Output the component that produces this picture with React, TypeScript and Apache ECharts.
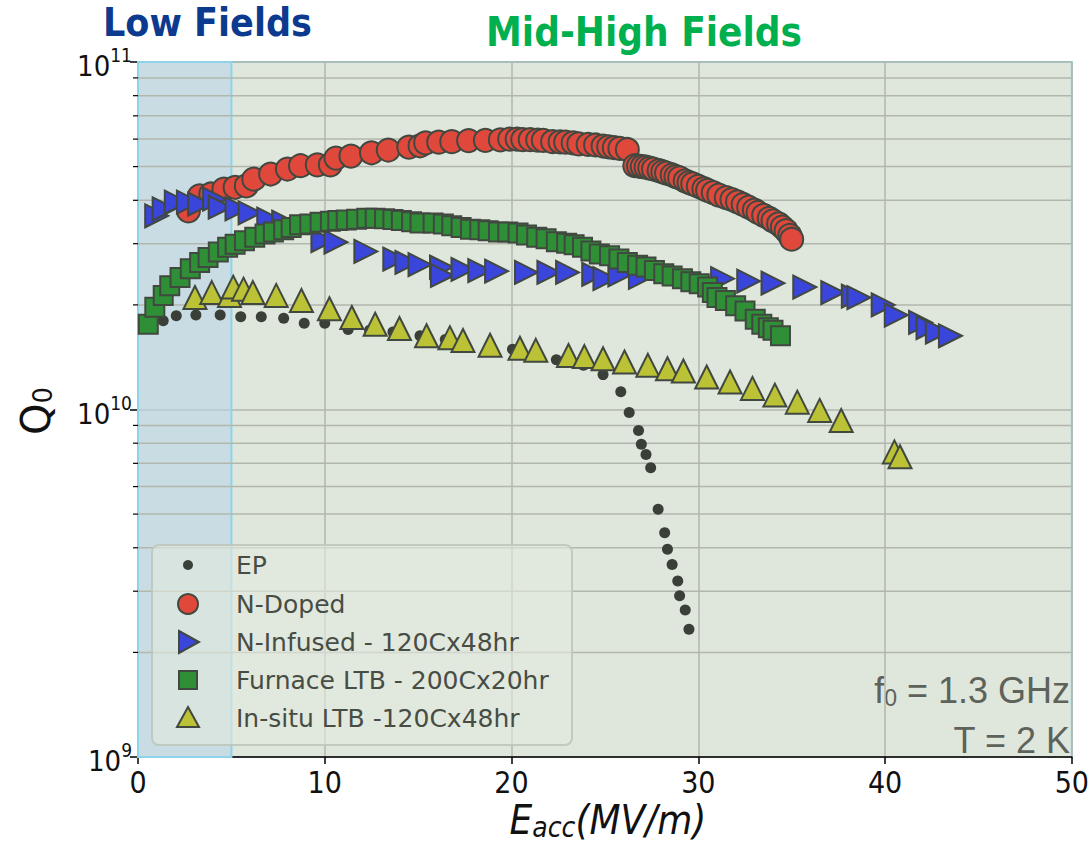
import React, { useEffect, useRef } from "react";
import * as echarts from "echarts";

// ---------- data (E_acc in MV/m, Q0) ----------
const epData: [number, number][] = [
  [1.35, 1.8e10], [2.05, 1.86e10], [3.1, 1.87e10], [4.4, 1.87e10], [5.5, 1.85e10], [6.6, 1.85e10],
  [7.8, 1.83e10], [8.9, 1.77e10], [10.0, 1.77e10], [11.25, 1.7e10], [12.4, 1.69e10], [13.65, 1.67e10],
  [15.1, 1.63e10], [16.45, 1.59e10], [20.05, 1.49e10], [21.2, 1.43e10], [22.4, 1.39e10], [23.85, 1.34e10],
  [24.9, 1.26e10], [25.85, 1.125e10], [26.3, 9.8e9], [26.8, 8.7e9], [26.95, 7.94e9], [27.2, 7.42e9],
  [27.45, 6.8e9], [27.85, 5.16e9], [28.2, 4.42e9], [28.35, 3.96e9], [28.6, 3.58e9], [28.9, 3.21e9],
  [29.0, 2.91e9], [29.3, 2.65e9], [29.5, 2.33e9],
];

const nDopedData: [number, number][] = [
  [2.7, 3.73e10], [3.3, 4.12e10], [3.9, 4.17e10], [4.6, 4.31e10], [5.2, 4.36e10], [5.8, 4.4e10],
  [6.2, 4.6e10], [7.1, 4.76e10], [8.0, 4.92e10], [8.7, 5.03e10], [9.6, 5.06e10], [10.3, 5.06e10],
  [10.6, 5.29e10], [11.4, 5.36e10], [12.5, 5.48e10], [13.4, 5.58e10], [14.5, 5.69e10], [15.1, 5.74e10],
  [15.4, 5.85e10], [16.1, 5.88e10], [16.8, 5.9e10], [17.7, 5.94e10], [18.6, 5.95e10], [19.4, 5.97e10],
  [19.9, 6.0e10], [20.3, 6.0e10], [20.6, 5.98e10], [21.0, 5.98e10], [21.4, 5.96e10], [21.7, 5.95e10],
  [22.2, 5.9e10], [22.6, 5.89e10], [22.9, 5.88e10], [23.3, 5.85e10], [23.6, 5.81e10], [24.1, 5.79e10],
  [24.5, 5.77e10], [24.9, 5.73e10], [25.2, 5.7e10], [25.5, 5.67e10], [25.8, 5.64e10], [26.2, 5.6e10],
  [26.6, 5.03e10], [26.8, 5.02e10], [27.0, 5.0e10], [27.2, 4.98e10], [27.4, 4.95e10], [27.6, 4.92e10],
  [27.9, 4.87e10], [28.1, 4.83e10], [28.3, 4.79e10], [28.6, 4.73e10], [28.8, 4.68e10], [29.0, 4.64e10],
  [29.3, 4.55e10], [29.5, 4.5e10], [29.7, 4.46e10], [30.0, 4.39e10], [30.3, 4.32e10], [30.5, 4.27e10],
  [30.8, 4.21e10], [31.1, 4.14e10], [31.5, 4.07e10], [31.8, 4.02e10], [32.1, 3.96e10], [32.4, 3.89e10],
  [32.7, 3.82e10], [33.0, 3.75e10], [33.2, 3.69e10], [33.5, 3.62e10], [33.8, 3.55e10], [34.0, 3.49e10],
  [34.3, 3.42e10], [34.5, 3.35e10], [34.7, 3.27e10], [34.9, 3.17e10], [35.0, 3.09e10],
];

const nInfusedData: [number, number][] = [
  [1.0, 3.61e10], [1.4, 3.78e10], [2.05, 3.95e10], [2.7, 3.95e10], [3.3, 3.9e10], [4.1, 4.03e10],
  [4.4, 3.82e10], [5.3, 3.78e10], [6.0, 3.68e10], [7.0, 3.53e10], [7.8, 3.46e10], [9.9, 3.06e10],
  [10.6, 3.03e10], [12.2, 2.85e10], [13.75, 2.71e10], [14.4, 2.65e10], [15.1, 2.61e10], [16.25, 2.57e10],
  [16.3, 2.43e10], [17.4, 2.53e10], [18.3, 2.51e10], [19.2, 2.5e10], [20.8, 2.48e10], [22.0, 2.48e10],
  [23.0, 2.48e10], [24.4, 2.45e10], [25.0, 2.38e10], [25.8, 2.44e10], [26.9, 2.4e10], [31.3, 2.38e10],
  [32.7, 2.34e10], [34.0, 2.31e10], [35.7, 2.25e10], [37.2, 2.17e10], [38.3, 2.12e10], [38.6, 2.1e10],
  [39.9, 2.0e10], [40.6, 1.87e10], [41.9, 1.78e10], [42.3, 1.72e10], [42.8, 1.67e10], [43.5, 1.63e10],
];

const furnaceData: [number, number][] = [
  [0.55, 1.76e10], [0.9, 1.97e10], [1.35, 2.13e10], [1.7, 2.27e10], [2.25, 2.4e10], [2.8, 2.54e10],
  [3.3, 2.65e10], [3.75, 2.74e10], [4.3, 2.84e10], [4.8, 2.93e10], [5.2, 2.99e10], [5.7, 3.06e10],
  [6.25, 3.13e10], [6.8, 3.2e10], [7.25, 3.24e10], [7.8, 3.29e10], [8.2, 3.34e10], [8.65, 3.4e10],
  [9.2, 3.42e10], [9.75, 3.46e10], [10.3, 3.48e10], [10.7, 3.5e10], [11.15, 3.51e10], [11.7, 3.53e10],
  [12.25, 3.55e10], [12.7, 3.55e10], [13.2, 3.54e10], [13.65, 3.52e10], [14.1, 3.5e10], [14.65, 3.47e10],
  [15.1, 3.44e10], [15.8, 3.44e10], [16.35, 3.42e10], [16.8, 3.38e10], [17.3, 3.34e10], [17.8, 3.3e10],
  [18.3, 3.29e10], [18.75, 3.27e10], [19.3, 3.24e10], [19.8, 3.24e10], [20.35, 3.22e10], [20.8, 3.18e10],
  [21.35, 3.13e10], [21.85, 3.1e10], [22.4, 3.04e10], [22.95, 3.01e10], [23.35, 2.98e10], [23.8, 2.93e10],
  [24.25, 2.86e10], [24.7, 2.8e10], [25.25, 2.77e10], [25.75, 2.71e10], [26.2, 2.65e10], [26.75, 2.6e10],
  [27.2, 2.57e10], [27.65, 2.51e10], [28.15, 2.46e10], [28.6, 2.42e10], [29.15, 2.38e10], [29.6, 2.33e10],
  [30.05, 2.3e10], [30.5, 2.25e10], [30.75, 2.17e10], [31.0, 2.1e10], [31.45, 2.06e10], [32.0, 1.99e10],
  [32.5, 1.92e10], [33.05, 1.82e10], [33.4, 1.76e10], [33.75, 1.72e10], [34.0, 1.69e10], [34.4, 1.63e10],
];

const inSituData: [number, number][] = [
  [3.05, 2.1e10], [3.95, 2.17e10], [4.9, 2.13e10], [5.1, 2.25e10], [5.65, 2.22e10], [6.15, 2.17e10],
  [7.4, 2.13e10], [8.75, 2.06e10], [10.25, 1.95e10], [11.45, 1.84e10], [12.7, 1.76e10], [14.0, 1.71e10],
  [15.45, 1.63e10], [16.7, 1.61e10], [17.4, 1.58e10], [18.85, 1.53e10], [20.45, 1.5e10], [21.3, 1.48e10],
  [23.05, 1.43e10], [23.9, 1.42e10], [24.9, 1.4e10], [26.05, 1.37e10], [27.3, 1.34e10], [28.35, 1.31e10],
  [29.2, 1.29e10], [30.45, 1.24e10], [31.7, 1.2e10], [32.9, 1.15e10], [34.1, 1.1e10], [35.3, 1.05e10],
  [36.5, 9.94e9], [37.65, 9.3e9], [40.5, 7.55e9], [40.8, 7.31e9],
];

const seriesNames = [
  "EP",
  "N-Doped",
  "N-Infused - 120Cx48hr",
  "Furnace LTB - 200Cx20hr",
  "In-situ LTB -120Cx48hr",
];

const xTicks = [0, 10, 20, 30, 40, 50];
const minorQ = [2e9, 3e9, 4e9, 5e9, 6e9, 7e9, 8e9, 9e9, 2e10, 3e10, 4e10, 5e10, 6e10, 7e10, 8e10, 9e10];
const lowFieldRange = [0, 5];

// ---------- styles ----------
const EDGE = "#414840";
const NARROW = "'Liberation Sans Narrow', 'DejaVu Sans Condensed', 'Liberation Sans', sans-serif";
const SANS = "'DejaVu Sans', 'Liberation Sans', sans-serif";
const ANNOT = "'Liberation Sans', sans-serif";

export default function App() {
  const ref = useRef<HTMLDivElement>(null);

  useEffect(() => {
    if (!ref.current) return;
    const chart = echarts.init(ref.current, undefined, { renderer: "svg" });

    const scatterBase = (name: string, data: [number, number][], extra: any) => ({
      name,
      type: "scatter",
      data,
      z: 5,
      ...extra,
    });

    // legend drawn as graphic
    const legX = 152, legY = 545, legW = 420, legH = 200;
    const rowY = [565, 604, 642, 680, 718];
    const iconX = 188;
    const legendItems: any[] = [
      {
        type: "rect", z: 50, z2: 0,
        shape: { x: legX, y: legY, width: legW, height: legH, r: 7 },
        style: { fill: "rgba(226,233,223,0.62)", stroke: "rgba(190,198,186,0.9)", lineWidth: 2 },
      },
      { type: "circle", z: 51, z2: 10, shape: { cx: iconX, cy: rowY[0], r: 5 }, style: { fill: "#3a4038", opacity: 1 } },
      { type: "circle", z: 51, z2: 10, shape: { cx: iconX, cy: rowY[1], r: 10 }, style: { fill: "#e0483b", stroke: EDGE, lineWidth: 2, opacity: 1 } },
      {
        type: "polygon", z: 51, z2: 10,
        shape: { points: [[iconX - 9, rowY[2] - 11], [iconX + 11, rowY[2]], [iconX - 9, rowY[2] + 11]] },
        style: { fill: "#3a45db", stroke: EDGE, lineWidth: 2, opacity: 1 },
      },
      { type: "rect", z: 51, z2: 10, shape: { x: iconX - 9, y: rowY[3] - 9, width: 18, height: 18 }, style: { fill: "#2f8f36", stroke: EDGE, lineWidth: 2, opacity: 1 } },
      {
        type: "polygon", z: 51, z2: 10,
        shape: { points: [[iconX, rowY[4] - 11], [iconX + 11, rowY[4] + 9], [iconX - 11, rowY[4] + 9]] },
        style: { fill: "#bcc236", stroke: EDGE, lineWidth: 2, opacity: 1 },
      },
    ];
    seriesNames.forEach((n, i) => {
      legendItems.push({
        type: "text", z: 51, z2: 10,
        x: 236,
        y: rowY[i],
        style: { text: n, fontSize: 25, fontFamily: SANS, fill: "#474d45", verticalAlign: "middle", align: "left" },
      });
    });

    chart.setOption({
      animation: false,
      grid: {
        left: 138, right: 19, top: 62, bottom: 91,
        show: true, backgroundColor: "#dfe6db", borderColor: "#8fd3ea", borderWidth: 2,
      },
      xAxis: {
        type: "value", min: xTicks[0], max: xTicks[xTicks.length - 1], interval: 10,
        axisLine: { show: true, onZero: false, lineStyle: { color: "#000", width: 1.5 } },
        axisTick: { show: true, length: 7, lineStyle: { color: "#000", width: 1.5 } },
        axisLabel: { fontSize: 30, fontFamily: NARROW, color: "#111", margin: 10 },
        splitLine: { show: true, lineStyle: { color: "#b2b7ad", width: 1.5 } },
      },
      yAxis: {
        type: "log", logBase: 10, min: 1e9, max: 1e11,
        axisLine: { show: true, onZero: false, lineStyle: { color: "#000", width: 1.5 } },
        axisTick: { show: true, length: 8, lineStyle: { color: "#000", width: 1.5 } },
        axisLabel: {
          margin: 6,
          formatter: (v: number) => `{b|10}{s|${Math.round(Math.log10(v))}}`,
          rich: {
            b: { fontSize: 29, fontFamily: NARROW, color: "#111", padding: [8, 0, 0, 0] },
            s: { fontSize: 19, fontFamily: NARROW, color: "#111", padding: [0, 0, 14, 0] },
          },
        },
        splitLine: { show: true, lineStyle: { color: "#b2b7ad", width: 1.5 } },
      },
      graphic: [
        {
          type: "text", x: 103, y: 22,
          style: { text: "Low Fields", fontSize: 39, fontWeight: "bold", fontFamily: NARROW, fill: "#0b3a8e", verticalAlign: "middle" },
        },
        {
          type: "text", x: 644, y: 32,
          style: { text: "Mid-High Fields", fontSize: 40, fontWeight: "bold", fontFamily: NARROW, fill: "#00b04f", align: "center", verticalAlign: "middle" },
        },
        {
          type: "text", x: 608, y: 820,
          style: {
            text: "{a|E}{b|acc}{a|(MV/m)}", align: "center", verticalAlign: "middle",
            rich: {
              a: { fontSize: 40, fontStyle: "italic", fontFamily: NARROW, fill: "#111" },
              b: { fontSize: 28, fontStyle: "italic", fontFamily: NARROW, fill: "#111", padding: [14, 0, 0, 0] },
            },
          },
        },
        {
          type: "text", x: 36, y: 411, rotation: Math.PI / 2,
          style: {
            text: "{a|Q}{b|0}", align: "center", verticalAlign: "middle",
            rich: {
              a: { fontSize: 40, fontFamily: SANS, fill: "#111" },
              b: { fontSize: 26, fontFamily: SANS, fill: "#111", padding: [14, 0, 0, 0] },
            },
          },
        },
        {
          type: "text", x: 1070, y: 690,
          style: {
            text: "{a|f}{b|0}{a| = 1.3 GHz}", align: "right", verticalAlign: "middle",
            rich: {
              a: { fontSize: 36, fontFamily: ANNOT, fill: "#5d625a" },
              b: { fontSize: 23, fontFamily: ANNOT, fill: "#5d625a", padding: [15, 0, 0, 0] },
            },
          },
        },
        {
          type: "text", x: 1070, y: 740,
          style: { text: "T = 2 K", fontSize: 36, fontFamily: ANNOT, fill: "#5d625a", align: "right", verticalAlign: "middle" },
        },
        ...legendItems,
      ],
      series: [
        {
          type: "custom",
          name: "minor",
          z: 1,
          silent: true,
          data: minorQ.map((q) => [0, q]),
          renderItem: (params: any, api: any) => {
            const q = api.value(1);
            const p0 = api.coord([xTicks[0], q]);
            const p1 = api.coord([xTicks[xTicks.length - 1], q]);
            return {
              type: "group",
              children: [
                { type: "line", shape: { x1: p0[0], y1: p0[1], x2: p1[0], y2: p1[1] }, style: { stroke: "#b2b7ad", lineWidth: 1.5 } },
                { type: "line", shape: { x1: p0[0] - 5, y1: p0[1], x2: p0[0], y2: p0[1] }, style: { stroke: "#000", lineWidth: 1.2 } },
              ],
            };
          },
          markArea: {
            silent: true,
            itemStyle: { color: "rgba(186,213,232,0.6)", borderColor: "#8fd3ea", borderWidth: 2 },
            data: [[{ xAxis: lowFieldRange[0] }, { xAxis: lowFieldRange[1] }]],
          },
        },
        scatterBase(seriesNames[0], epData, {
          symbol: "circle", symbolSize: 11,
          itemStyle: { color: "#3a4038", opacity: 1 },
        }),
        scatterBase(seriesNames[1], nDopedData, {
          symbol: "circle", symbolSize: 23,
          itemStyle: { color: "#e0483b", borderColor: EDGE, borderWidth: 2, opacity: 1 },
        }),
        scatterBase(seriesNames[2], nInfusedData, {
          symbol: "triangle", symbolSize: 23, symbolRotate: -90,
          itemStyle: { color: "#3a45db", borderColor: EDGE, borderWidth: 2, opacity: 1 },
        }),
        scatterBase(seriesNames[3], furnaceData, {
          symbol: "rect", symbolSize: 19,
          itemStyle: { color: "#2f8f36", borderColor: EDGE, borderWidth: 2, opacity: 1 },
        }),
        scatterBase(seriesNames[4], inSituData, {
          symbol: "triangle", symbolSize: 23,
          itemStyle: { color: "#bcc236", borderColor: EDGE, borderWidth: 2, opacity: 1 },
        }),
      ],
    });

    return () => chart.dispose();
  }, []);

  return <div ref={ref} style={{ width: 1092, height: 848, position: "absolute", left: 0, top: 0, background: "#fff" }} />;
}
